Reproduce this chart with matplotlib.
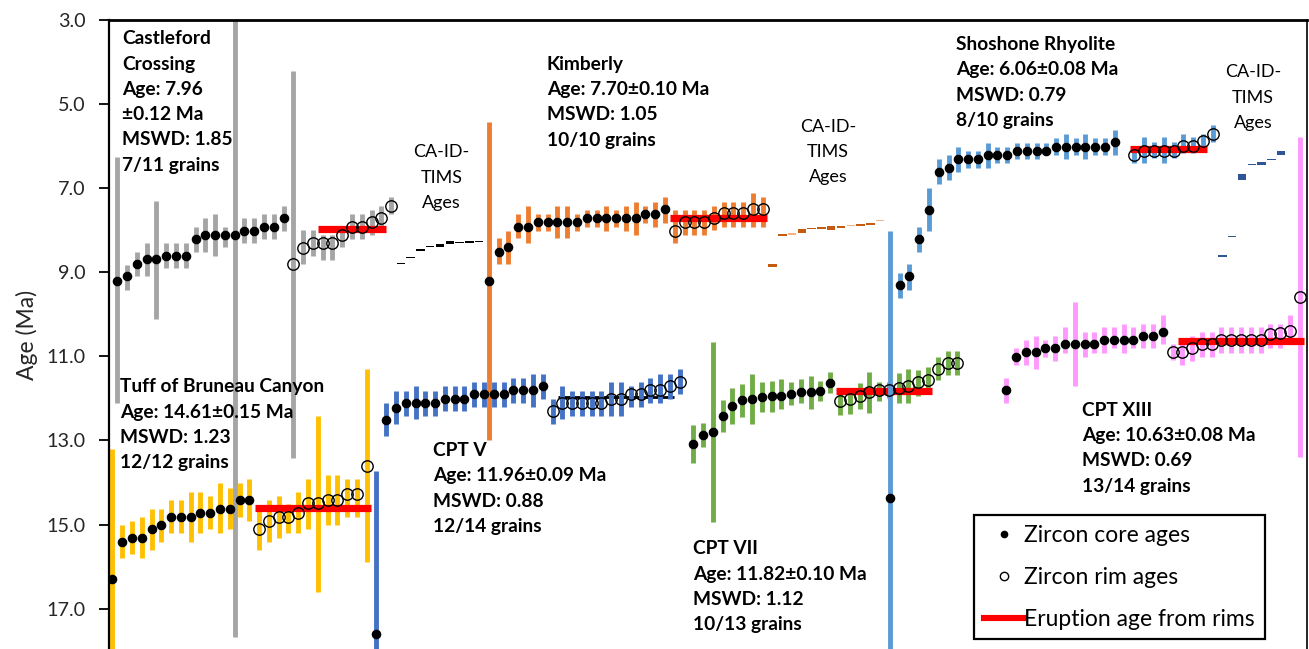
import matplotlib
matplotlib.use('Agg')
import matplotlib.pyplot as plt
from matplotlib.lines import Line2D

plt.rcParams['font.family'] = ['Lato', 'DejaVu Sans']

# ---------------- data (ages in Ma; lo/hi = ends of the 2-sigma bars) ----------------
# Castleford Crossing
cast_core_age = [9.21, 9.10, 8.81, 8.69, 8.69, 8.61, 8.61, 8.61, 8.21, 8.11, 8.11, 8.11, 8.11, 8.01, 8.01, 7.92, 7.92, 7.72]
cast_core_lo = [6.25, 8.83, 8.51, 8.31, 7.31, 8.31, 8.31, 8.31, 7.92, 7.72, 7.62, 7.92, 2.50, 7.72, 7.72, 7.62, 7.62, 7.42]
cast_core_hi = [12.10, 9.41, 9.10, 9.10, 10.10, 8.91, 8.91, 8.91, 8.51, 8.51, 8.61, 8.41, 17.68, 8.31, 8.31, 8.21, 8.21, 8.01]
cast_rim_age = [8.81, 8.42, 8.31, 8.31, 8.31, 8.11, 7.92, 7.92, 7.81, 7.72, 7.42]
cast_rim_lo = [4.21, 8.00, 8.00, 8.11, 8.11, 7.92, 7.62, 7.62, 7.52, 7.42, 7.22]
cast_rim_hi = [13.41, 8.81, 8.61, 8.71, 8.71, 8.41, 8.21, 8.21, 8.11, 8.01, 7.62]
cast_tims_age = [8.80, 8.64, 8.47, 8.39, 8.37, 8.30, 8.29, 8.28, 8.27]
cast_tims_err = [0.012, 0.012, 0.035, 0.02, 0.035, 0.035, 0.02, 0.02, 0.02]
cast_erupt = 7.96
cast_erupt_rims = (3, 9)

# Kimberly
kim_core_age = [9.21, 8.51, 8.39, 7.92, 7.92, 7.81, 7.81, 7.81, 7.81, 7.81, 7.70, 7.70, 7.70, 7.70, 7.70, 7.70, 7.61, 7.61, 7.50]
kim_core_lo = [5.42, 8.19, 8.01, 7.61, 7.42, 7.61, 7.61, 7.42, 7.42, 7.61, 7.52, 7.52, 7.42, 7.52, 7.42, 7.32, 7.42, 7.32, 7.22]
kim_core_hi = [13.00, 8.80, 8.80, 8.19, 8.31, 8.01, 8.01, 8.19, 8.19, 8.01, 7.92, 7.92, 8.01, 7.92, 8.01, 8.11, 7.82, 7.92, 7.82]
kim_rim_age = [8.01, 7.80, 7.80, 7.80, 7.72, 7.60, 7.60, 7.60, 7.50, 7.50]
kim_rim_lo = [7.52, 7.52, 7.52, 7.52, 7.42, 7.32, 7.32, 7.32, 7.11, 7.22]
kim_rim_hi = [8.31, 8.11, 8.11, 8.11, 8.00, 7.92, 7.92, 7.92, 7.92, 7.92]
kim_tims_age = [8.84, 8.11, 8.09, 8.02, 7.96, 7.95, 7.94, 7.92, 7.88, 7.87, 7.85, 7.77]
kim_tims_err = [0.04, 0.02, 0.015, 0.04, 0.02, 0.02, 0.05, 0.02, 0.015, 0.02, 0.02, 0.015]
kim_tims_light = [0, 0, 1, 0, 0, 0, 0, 0, 1, 0, 0, 1]
kim_erupt = 7.70
kim_erupt_rims = (0, 9)

# Shoshone Rhyolite
sho_core_age = [14.37, 9.30, 9.10, 8.21, 7.52, 6.61, 6.51, 6.31, 6.31, 6.31, 6.20, 6.20, 6.20, 6.11, 6.11, 6.11, 6.11, 6.01, 6.01, 6.01, 6.01, 6.01, 6.01, 5.91]
sho_core_lo = [8.01, 9.01, 8.81, 7.92, 7.00, 6.31, 6.21, 6.01, 6.12, 6.12, 5.92, 6.01, 6.01, 5.92, 5.92, 5.92, 5.92, 5.81, 5.71, 5.81, 5.71, 5.81, 5.81, 5.62]
sho_core_hi = [18.50, 9.61, 9.41, 8.51, 8.01, 6.91, 6.81, 6.61, 6.51, 6.51, 6.51, 6.41, 6.41, 6.31, 6.31, 6.31, 6.21, 6.21, 6.31, 6.21, 6.31, 6.21, 6.21, 6.21]
sho_rim_age = [6.21, 6.11, 6.11, 6.11, 6.11, 5.99, 5.99, 5.88, 5.71]
sho_rim_lo = [6.01, 5.79, 5.89, 5.79, 5.89, 5.70, 5.79, 5.70, 5.50]
sho_rim_hi = [6.41, 6.41, 6.29, 6.41, 6.29, 6.17, 6.17, 6.08, 5.89]
sho_tims_age = [8.62, 8.15, 6.73, 6.43, 6.41, 6.31, 6.16]
sho_tims_err = [0.02, 0.02, 0.075, 0.015, 0.03, 0.015, 0.045]
sho_erupt = 6.06
sho_erupt_rims = (0, 7)

# Tuff of Bruneau Canyon
bru_core_age = [16.30, 15.41, 15.31, 15.31, 15.11, 15.00, 14.81, 14.81, 14.81, 14.72, 14.72, 14.62, 14.62, 14.42, 14.42]
bru_core_lo = [13.20, 15.01, 14.91, 14.81, 14.62, 14.62, 14.42, 14.42, 14.22, 14.22, 14.32, 14.02, 14.12, 14.02, 13.92]
bru_core_hi = [18.50, 15.80, 15.70, 15.80, 15.61, 15.41, 15.21, 15.21, 15.41, 15.21, 15.11, 15.21, 15.11, 14.81, 14.91]
bru_rim_age = [15.11, 14.91, 14.81, 14.81, 14.72, 14.48, 14.48, 14.42, 14.42, 14.28, 14.28, 13.60]
bru_rim_lo = [14.62, 14.42, 14.32, 14.51, 14.22, 13.92, 12.42, 13.82, 13.82, 13.92, 13.92, 11.31]
bru_rim_hi = [15.61, 15.41, 15.31, 15.21, 15.21, 15.11, 16.60, 15.01, 15.01, 14.81, 14.81, 15.90]
bru_erupt = 14.61
bru_erupt_rims = (0, 11)

# CPT V
cpt5_core_age = [17.60, 12.51, 12.22, 12.10, 12.10, 12.10, 12.10, 12.01, 12.01, 12.01, 11.90, 11.90, 11.90, 11.90, 11.81, 11.81, 11.81, 11.71]
cpt5_core_lo = [13.72, 12.10, 11.82, 11.82, 11.71, 11.82, 11.82, 11.71, 11.71, 11.71, 11.61, 11.61, 11.61, 11.61, 11.51, 11.51, 11.41, 11.41]
cpt5_core_hi = [18.50, 12.90, 12.61, 12.41, 12.50, 12.41, 12.41, 12.30, 12.30, 12.30, 12.20, 12.20, 12.20, 12.20, 12.10, 12.10, 12.20, 12.01]
cpt5_rim_age = [12.30, 12.10, 12.10, 12.10, 12.10, 12.10, 12.01, 12.01, 11.90, 11.90, 11.81, 11.81, 11.71, 11.60]
cpt5_rim_lo = [12.01, 11.71, 11.82, 11.82, 11.82, 11.82, 11.61, 11.61, 11.71, 11.61, 11.51, 11.41, 11.41, 11.31]
cpt5_rim_hi = [12.61, 12.50, 12.41, 12.41, 12.41, 12.41, 12.41, 12.41, 12.20, 12.20, 12.10, 12.10, 12.01, 11.90]
cpt5_erupt = 11.96
cpt5_erupt_rims = (1, 12)

# CPT VII
cpt7_core_age = [13.09, 12.87, 12.81, 12.42, 12.18, 12.04, 12.02, 11.96, 11.94, 11.94, 11.90, 11.85, 11.85, 11.82, 11.63]
cpt7_core_lo = [12.63, 12.59, 10.65, 12.04, 11.75, 11.66, 11.42, 11.60, 11.58, 11.55, 11.60, 11.55, 11.47, 11.58, 11.38]
cpt7_core_hi = [13.53, 13.15, 14.95, 12.79, 12.62, 12.44, 12.62, 12.32, 12.32, 12.26, 12.16, 12.12, 12.24, 12.06, 11.88]
cpt7_rim_age = [12.06, 12.02, 11.94, 11.84, 11.80, 11.80, 11.76, 11.71, 11.60, 11.56, 11.29, 11.15, 11.15]
cpt7_rim_lo = [11.86, 11.80, 11.63, 11.38, 11.60, 11.62, 11.40, 11.31, 11.33, 11.26, 11.01, 10.87, 10.87]
cpt7_rim_hi = [12.40, 12.36, 12.26, 12.34, 12.05, 11.98, 12.12, 12.12, 11.94, 11.76, 11.56, 11.44, 11.44]
cpt7_erupt = 11.82
cpt7_erupt_rims = (0, 9)

# CPT XIII
cpt13_core_age = [11.80, 11.01, 10.90, 10.90, 10.79, 10.79, 10.70, 10.70, 10.70, 10.70, 10.60, 10.60, 10.60, 10.60, 10.51, 10.51, 10.41]
cpt13_core_lo = [11.51, 10.81, 10.61, 10.52, 10.61, 10.52, 10.31, 9.71, 10.41, 10.41, 10.31, 10.31, 10.22, 10.31, 10.22, 10.22, 10.02]
cpt13_core_hi = [12.10, 11.21, 11.21, 11.31, 11.01, 11.11, 10.91, 11.71, 11.01, 10.91, 10.91, 10.81, 10.91, 10.81, 10.81, 10.81, 10.71]
cpt13_rim_age = [10.89, 10.89, 10.81, 10.71, 10.71, 10.61, 10.61, 10.61, 10.61, 10.61, 10.47, 10.45, 10.39, 9.60]
cpt13_rim_lo = [10.71, 10.71, 10.52, 10.41, 10.41, 10.31, 10.31, 10.31, 10.31, 10.31, 10.22, 10.22, 10.02, 5.79]
cpt13_rim_hi = [11.09, 11.21, 11.11, 11.01, 11.01, 10.91, 10.91, 10.91, 10.91, 10.91, 10.81, 10.81, 10.71, 13.39]
cpt13_erupt = 10.63
cpt13_erupt_rims = (1, 13)

# text
cast_label = ['Castleford', 'Crossing', 'Age: 7.96', '\u00b10.12 Ma', 'MSWD: 1.85', '7/11 grains']
kim_label = ['Kimberly', 'Age: 7.70\u00b10.10 Ma', 'MSWD: 1.05', '10/10 grains']
sho_label = ['Shoshone Rhyolite', 'Age: 6.06\u00b10.08 Ma', 'MSWD: 0.79', '8/10 grains']
bru_label = ['Tuff of Bruneau Canyon', 'Age: 14.61\u00b10.15 Ma', 'MSWD: 1.23', '12/12 grains']
cpt5_label = ['CPT V', 'Age: 11.96\u00b10.09 Ma', 'MSWD: 0.88', '12/14 grains']
cpt7_label = ['CPT VII', 'Age: 11.82\u00b10.10 Ma', 'MSWD: 1.12', '10/13 grains']
cpt13_label = ['CPT XIII', 'Age: 10.63\u00b10.08 Ma', 'MSWD: 0.69', '13/14 grains']
tims_label = ['CA-ID-', 'TIMS', 'Ages']
legend_labels = ['Zircon core ages', 'Zircon rim ages', 'Eruption age from rims']
y_ticks = [3.0, 5.0, 7.0, 9.0, 11.0, 13.0, 15.0, 17.0]
y_label = 'Age (Ma)'

# ---------------- figure ----------------
W, H = 1309, 649
fig = plt.figure(figsize=(W / 100, H / 100), dpi=100)
ax = fig.add_axes([109 / W, 0, (1307 - 109) / W, (H - 20) / H])
ax.set_xlim(-0.85, 121.65)
ax.set_ylim(17.96, 3.0)

BAR_LW = 3.5


def grains(start, age, lo, hi, color, z, filled):
    xs = [start + k for k in range(len(age))]
    ax.vlines(xs, lo, hi, colors=color, lw=BAR_LW, zorder=z, capstyle='butt')
    if filled:
        ax.plot(xs, age, 'o', ls='none', color='black', ms=5.9, zorder=5)
    else:
        ax.plot(xs, age, 'o', ls='none', mfc='none', mec='black', ms=8.2, mew=1.0, zorder=5)
    return xs


def erupt(xs, rims, age, z, color='#FF0000', lw=5.2):
    a, b = rims
    ax.hlines(age, xs[a] - 0.45, xs[b] + 0.45, colors=color, lw=lw, zorder=z, capstyle='butt')


def tims(start, age, err, colors):
    xs = [start + k for k in range(len(age))]
    bottoms = [a - e for a, e in zip(age, err)]
    heights = [2 * e for e in err]
    ax.bar(xs, heights, bottom=bottoms, width=0.86, color=colors, lw=0, zorder=3)


GRAY, ORANGE, LBLUE = '#A5A5A5', '#ED7D31', '#5B9BD5'
GOLD, BLUE, GREEN, PINK = '#FFC000', '#4472C4', '#70AD47', '#FF99FF'

# bottom row (drawn below)
grains(-0.5, bru_core_age, bru_core_lo, bru_core_hi, GOLD, 2, True)
xr = grains(14.5, bru_rim_age, bru_rim_lo, bru_rim_hi, GOLD, 2, False)
erupt(xr, bru_erupt_rims, bru_erupt, 2.5)
grains(26.5, cpt5_core_age, cpt5_core_lo, cpt5_core_hi, BLUE, 2, True)
xr = grains(44.5, cpt5_rim_age, cpt5_rim_lo, cpt5_rim_hi, BLUE, 2, False)
erupt(xr, cpt5_erupt_rims, cpt5_erupt, 1.5, color='black', lw=2.0)
grains(58.9, cpt7_core_age, cpt7_core_lo, cpt7_core_hi, GREEN, 2, True)
xr = grains(73.9, cpt7_rim_age, cpt7_rim_lo, cpt7_rim_hi, GREEN, 2, False)
erupt(xr, cpt7_erupt_rims, cpt7_erupt, 2.5)
grains(90.9, cpt13_core_age, cpt13_core_lo, cpt13_core_hi, PINK, 2, True)
xr = grains(107.9, cpt13_rim_age, cpt13_rim_lo, cpt13_rim_hi, PINK, 2, False)
erupt(xr, cpt13_erupt_rims, cpt13_erupt, 2.5)

# top row
grains(0, cast_core_age, cast_core_lo, cast_core_hi, GRAY, 3, True)
xr = grains(18, cast_rim_age, cast_rim_lo, cast_rim_hi, GRAY, 3, False)
erupt(xr, cast_erupt_rims, cast_erupt, 3.5)
tims(29, cast_tims_age, cast_tims_err, 'black')
grains(38, kim_core_age, kim_core_lo, kim_core_hi, ORANGE, 3, True)
xr = grains(57, kim_rim_age, kim_rim_lo, kim_rim_hi, ORANGE, 3, False)
erupt(xr, kim_erupt_rims, kim_erupt, 3.5)
tims(67, kim_tims_age, kim_tims_err, ['#F4B183' if l else '#C55A11' for l in kim_tims_light])
grains(79, sho_core_age, sho_core_lo, sho_core_hi, LBLUE, 3, True)
xr = grains(104, sho_rim_age, sho_rim_lo, sho_rim_hi, LBLUE, 3, False)
erupt(xr, sho_erupt_rims, sho_erupt, 3.5)
tims(113, sho_tims_age, sho_tims_err, '#2F5597')

# axes styling
ax.set_xticks([])
ax.set_yticks(y_ticks)
ax.set_yticklabels(['%.1f' % v for v in y_ticks], fontsize=14.2, color='#262626')
ax.tick_params(axis='y', direction='out', length=7, width=1.3, pad=10, color='black')
ax.set_ylabel(y_label, fontsize=16.5, color='#262626', labelpad=6)
ax.spines['bottom'].set_visible(False)
ax.spines['top'].set_linewidth(2.0)
ax.spines['left'].set_linewidth(1.6)
ax.spines['right'].set_linewidth(1.2)
for s in ax.spines.values():
    s.set_color('black')
    s.set_zorder(6)

# text blocks: (lines, left/center x px, first baseline px, ha, weight, size)
LS = 25.3
blocks = [
    (cast_label, 122, 44.3, 'left', 'bold', 13.8),
    (kim_label, 547, 69.8, 'left', 'bold', 13.8),
    (tims_label, 441.5, 157.3, 'center', 'normal', 13.0),
    (tims_label, 828, 131.7, 'center', 'normal', 13.0),
    (sho_label, 956, 50.0, 'left', 'bold', 13.8),
    (tims_label, 1253, 77.3, 'center', 'normal', 13.0),
    (bru_label, 120, 392.3, 'left', 'bold', 13.8),
    (cpt5_label, 433.3, 456.0, 'left', 'bold', 13.8),
    (cpt7_label, 692.7, 554.3, 'left', 'bold', 13.8),
    (cpt13_label, 1081.7, 415.7, 'left', 'bold', 13.8),
]
for lines, x0, y0, ha, wt, fs in blocks:
    for k, s in enumerate(lines):
        fig.text(x0 / W, 1 - (y0 + k * LS) / H, s, ha=ha, va='baseline',
                 fontsize=fs, fontweight=wt, color='black', zorder=7)

handles = [
    Line2D([], [], marker='o', ls='none', color='black', ms=4.5),
    Line2D([], [], marker='o', ls='none', mfc='none', mec='black', ms=6.0, mew=1.0),
    Line2D([], [], color='#FF0000', lw=4.4),
]
leg = fig.legend(handles, legend_labels, loc='upper left',
                 bbox_to_anchor=(974 / W, 1 - 515 / H), fontsize=16.5,
                 frameon=True, fancybox=False, framealpha=1, edgecolor='black',
                 handlelength=1.75, handletextpad=0.03, labelspacing=0.92,
                 borderpad=0.42, borderaxespad=0)
leg.get_frame().set_linewidth(1.6)

fig.savefig('out.png', dpi=100)
